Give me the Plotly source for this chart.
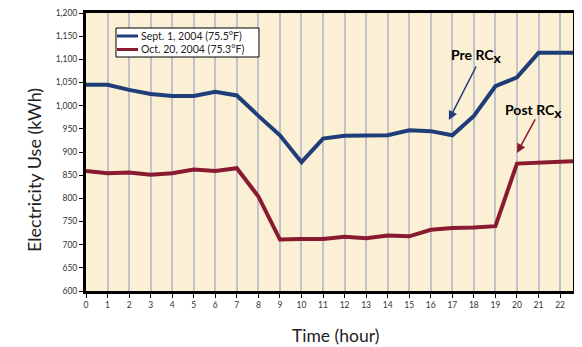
import plotly.graph_objects as go

hours = list(range(0, 24))
sept_kwh = [1045, 1045, 1034, 1025, 1021, 1021, 1030, 1022, 978, 936, 878, 929,
            935, 936, 936, 947, 945, 936, 978, 1042, 1061, 1114, 1114, 1114]
oct_kwh = [859, 854, 856, 851, 854, 862, 859, 865, 804, 711, 712, 712,
           717, 714, 720, 718, 732, 736, 737, 740, 875, 876, 879, 881]
series_names = ["Sept. 1, 2004 (75.5°F)", "Oct. 20, 2004 (75.3°F)"]
x_ticks = list(range(0, 23))
y_ticks = list(range(600, 1201, 50))
y_labels = [f"{v:,}" for v in y_ticks]

BLUE = "#1f3d78"
RED = "#8a1a30"
FONT = "Lato"

OFF = 8  # browser default body margin
L, R, T, B = 86 - OFF, 9, 13 - OFF, 56
W, H = 582 - OFF, 347 - OFF
PW, PH = W - L - R, H - T - B


def px(xs):
    return (xs - OFF - L) / PW


def py(ys):
    return (H - B - (ys - OFF)) / PH


fig = go.Figure()
fig.add_trace(go.Scatter(x=hours, y=sept_kwh, mode="lines", name=series_names[0],
                         line=dict(color=BLUE, width=4)))
fig.add_trace(go.Scatter(x=hours, y=oct_kwh, mode="lines", name=series_names[1],
                         line=dict(color=RED, width=4)))

fig.update_layout(
    width=W, height=H,
    margin=dict(l=L, r=R, t=T, b=B),
    paper_bgcolor="white",
    plot_bgcolor="#fcf0d4",
    font=dict(family=FONT, color="#333333"),
    showlegend=False,
)
fig.update_xaxes(
    range=[0, 22.6], tickvals=x_ticks, ticktext=[str(t) for t in x_ticks],
    showgrid=True, gridcolor="#c2c2cc", gridwidth=1.5,
    showline=True, linecolor="black", linewidth=3, mirror=True,
    ticks="outside", ticklen=4, tickcolor="black",
    tickfont=dict(size=8.5, color="#333333"), zeroline=False, automargin=False,
    ticklabeloverflow="allow",
)
fig.update_yaxes(
    range=[600, 1200], tickvals=y_ticks, ticktext=y_labels,
    showgrid=False,
    showline=True, linecolor="black", linewidth=3, mirror=True,
    ticks="outside", ticklen=4, tickcolor="black",
    tickfont=dict(size=8.5, color="#333333"), zeroline=False, automargin=False,
    ticklabeloverflow="allow",
)

# axis titles
fig.add_annotation(xref="paper", yref="paper", x=px(335), y=py(336), text="Time (hour)",
                   xanchor="center", yanchor="middle",
                   showarrow=False, font=dict(size=17.5, color="#222222"))
fig.add_annotation(xref="paper", yref="paper", x=px(34), y=py(170), text="Electricity Use (kWh)",
                   xanchor="center", yanchor="middle",
                   showarrow=False, textangle=-90, font=dict(size=18, color="#222222"))

# custom legend
fig.add_shape(type="rect", xref="paper", yref="paper", x0=px(116), x1=px(259), y0=py(57), y1=py(28),
              fillcolor="white", line=dict(color="black", width=1), layer="above")
for i, (name, col) in enumerate(zip(series_names, [BLUE, RED])):
    yy = 36 + i * 13.5
    fig.add_shape(type="line", xref="paper", yref="paper", x0=px(117), x1=px(138), y0=py(yy), y1=py(yy),
                  line=dict(color=col, width=3), layer="above")
    fig.add_annotation(xref="paper", yref="paper", x=px(139), y=py(yy), xanchor="left", yanchor="middle",
                       text=name, showarrow=False, font=dict(size=10.5, color="#222222"))

# callouts
fig.add_annotation(x=16.84, y=969, ax=28, ay=-55, text="", showarrow=True,
                   arrowhead=2, arrowsize=1.2, arrowwidth=1.5, arrowcolor=BLUE)
fig.add_annotation(x=20.0, y=898, ax=19, ay=-35, text="", showarrow=True,
                   arrowhead=2, arrowsize=1.2, arrowwidth=1.5, arrowcolor=RED)
fig.add_annotation(xref="paper", yref="paper", x=px(476), y=py(56),
                   xanchor="center", yanchor="middle",
                   text="<b>Pre RC<sub><span style='font-size:14px'>x</span></sub></b>",
                   showarrow=False, font=dict(size=14, color="black"))
fig.add_annotation(xref="paper", yref="paper", x=px(533), y=py(111),
                   xanchor="center", yanchor="middle",
                   text="<b>Post RC<sub><span style='font-size:14px'>x</span></sub></b>",
                   showarrow=False, font=dict(size=14, color="black"))

fig.write_html("out.html")
